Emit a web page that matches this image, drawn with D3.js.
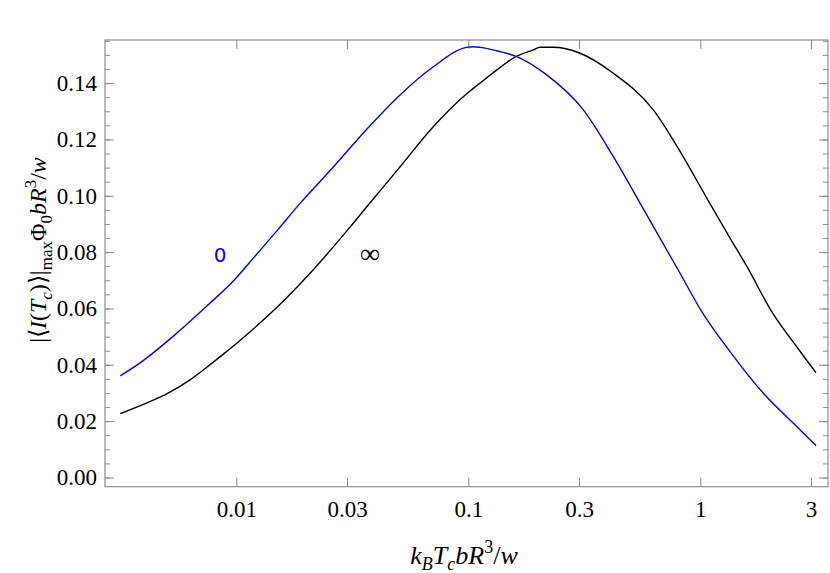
<!DOCTYPE html>
<html>
<head>
<meta charset="utf-8">
<script src="https://cdn.jsdelivr.net/npm/d3@7"></script>
<style>
  body { margin: 0; background: #fff; }
  text { font-family: "Liberation Serif", "Times New Roman", serif; }
</style>
</head>
<body>
<svg id="chart" width="830" height="573"></svg>
<script>
// series: x (log scale), y
var blueX = [0.00316, 0.00382, 0.00532, 0.0074, 0.0098, 0.01216, 0.01508, 0.01882, 0.02619, 0.03648,
  0.05077, 0.07064, 0.0984, 0.1051, 0.1123, 0.1369, 0.1616, 0.2177, 0.3131, 0.4217,
  0.5875, 0.8176, 1.014, 1.343, 1.869, 2.603, 3.153];
var blueY = [0.0361, 0.0405, 0.0500, 0.0606, 0.0701, 0.0790, 0.0879, 0.0973, 0.1102, 0.1236,
  0.1358, 0.1458, 0.1527, 0.1529, 0.1527, 0.1512, 0.1494, 0.1429, 0.1305, 0.1139,
  0.0932, 0.0725, 0.0589, 0.0447, 0.0299, 0.0181, 0.0113];

var blackX = [0.00316, 0.00451, 0.00501, 0.00627, 0.00764, 0.00874, 0.01138, 0.01532, 0.02064, 0.0302,
  0.0365, 0.0508, 0.0706, 0.0984, 0.1123, 0.1369, 0.1563, 0.1906, 0.2037, 0.2325,
  0.3030, 0.4217, 0.6270, 0.8176, 1.083, 1.343, 1.585, 2.031, 2.603, 3.153];
var blackY = [0.0227, 0.0279, 0.0297, 0.0345, 0.0398, 0.0436, 0.0515, 0.0612, 0.0722, 0.0879,
  0.0961, 0.1103, 0.1245, 0.1362, 0.1400, 0.1455, 0.1489, 0.1518, 0.1527, 0.1527,
  0.1506, 0.1435, 0.1305, 0.1158, 0.0982, 0.0850, 0.0750, 0.0589, 0.0464, 0.0372];

var xTicks = [0.01, 0.03, 0.1, 0.3, 1, 3];
var xTickLabels = ["0.01", "0.03", "0.1", "0.3", "1", "3"];
var yTicks = [0, 0.02, 0.04, 0.06, 0.08, 0.10, 0.12, 0.14];
var yMinor = d3.range(0, 0.1551, 0.005);

var svg = d3.select('#chart');

var plotLeft = 105, plotRight = 828, plotTop = 40, plotBottom = 486.7;

var xScale = d3.scaleLog()
  .domain([0.002716, 3.551])
  .range([plotLeft, plotRight]);

var yScale = d3.scaleLinear()
  .domain([-0.00327, 0.1553])
  .range([plotBottom, plotTop]);

var frameColor = '#8c8c8c';

function styleAxis(g) {
  g.select('.domain').remove();
  g.selectAll('.tick line').attr('stroke', frameColor);
  g.selectAll('.tick text')
    .attr('fill', '#000')
    .style('font-family', '"Liberation Serif", serif')
    .style('font-size', '23px');
}

// bottom axis
svg.append('g')
  .attr('transform', 'translate(0,' + plotBottom + ')')
  .call(d3.axisBottom(xScale).tickValues(xTicks)
    .tickFormat(function(d, i) { return xTickLabels[i]; })
    .tickSize(-9).tickPadding(14))
  .call(styleAxis);

// top axis (ticks only)
svg.append('g')
  .attr('transform', 'translate(0,' + plotTop + ')')
  .call(d3.axisTop(xScale).tickValues(xTicks).tickFormat('').tickSize(-9))
  .call(styleAxis);

// left axis: minor then major
svg.append('g')
  .attr('transform', 'translate(' + plotLeft + ',0)')
  .call(d3.axisLeft(yScale).tickValues(yMinor).tickFormat('').tickSize(-5))
  .call(styleAxis);
svg.append('g')
  .attr('transform', 'translate(' + plotLeft + ',0)')
  .call(d3.axisLeft(yScale).tickValues(yTicks)
    .tickFormat(function(d) { return d.toFixed(2); })
    .tickSize(-9).tickPadding(8))
  .call(styleAxis);

// right axis
svg.append('g')
  .attr('transform', 'translate(' + plotRight + ',0)')
  .call(d3.axisRight(yScale).tickValues(yMinor).tickFormat('').tickSize(-5))
  .call(styleAxis);
svg.append('g')
  .attr('transform', 'translate(' + plotRight + ',0)')
  .call(d3.axisRight(yScale).tickValues(yTicks).tickFormat('').tickSize(-9))
  .call(styleAxis);

// frame
svg.append('rect')
  .attr('x', plotLeft).attr('y', plotTop)
  .attr('width', plotRight - plotLeft).attr('height', plotBottom - plotTop)
  .attr('fill', 'none')
  .attr('stroke', frameColor)
  .attr('stroke-width', 1.2);

svg.append('clipPath').attr('id', 'clip')
  .append('rect')
  .attr('x', plotLeft).attr('y', plotTop)
  .attr('width', plotRight - plotLeft).attr('height', plotBottom - plotTop);

var line = d3.line()
  .x(function(d) { return xScale(d[0]); })
  .y(function(d) { return yScale(d[1]); })
  .curve(d3.curveMonotoneX);

svg.append('path')
  .datum(d3.zip(blackX, blackY))
  .attr('d', line)
  .attr('clip-path', 'url(#clip)')
  .attr('fill', 'none')
  .attr('stroke', '#000')
  .attr('stroke-width', 1.4);

svg.append('path')
  .datum(d3.zip(blueX, blueY))
  .attr('d', line)
  .attr('clip-path', 'url(#clip)')
  .attr('fill', 'none')
  .attr('stroke', '#0000ff')
  .attr('stroke-width', 1.4);

// curve labels
svg.append('text')
  .attr('x', 220).attr('y', 262)
  .attr('text-anchor', 'middle')
  .style('font-family', '"DejaVu Sans", sans-serif')
  .style('font-size', '20px')
  .attr('fill', '#0000ff')
  .text('0');

svg.append('text')
  .attr('x', 370).attr('y', 263)
  .attr('text-anchor', 'middle')
  .style('font-size', '28px')
  .attr('fill', '#000')
  .text('\u221E');

// x axis title
var xt = svg.append('text')
  .attr('x', 464).attr('y', 564)
  .attr('text-anchor', 'middle')
  .style('font-size', '26px');
xt.append('tspan').style('font-style', 'italic').text('k');
xt.append('tspan').style('font-style', 'italic').style('font-size', '18px').attr('dy', 6).text('B');
xt.append('tspan').style('font-style', 'italic').attr('dy', -6).text('T');
xt.append('tspan').style('font-style', 'italic').style('font-size', '18px').attr('dy', 6).text('c');
xt.append('tspan').style('font-style', 'italic').attr('dy', -6).text('bR');
xt.append('tspan').style('font-size', '18px').attr('dy', -11).text('3');
xt.append('tspan').attr('dy', 11).text('/');
xt.append('tspan').style('font-style', 'italic').text('w');

// y axis title
var yt = svg.append('text')
  .attr('transform', 'translate(46,250) rotate(-90)')
  .attr('text-anchor', 'middle')
  .style('font-size', '24px');
yt.append('tspan').text('|\u27E8');
yt.append('tspan').style('font-style', 'italic').text('I');
yt.append('tspan').text('(');
yt.append('tspan').style('font-style', 'italic').text('T');
yt.append('tspan').style('font-style', 'italic').style('font-size', '17px').attr('dy', 6).text('c');
yt.append('tspan').attr('dy', -6).text(')\u27E9|');
yt.append('tspan').style('font-size', '17px').attr('dy', 6).text('max');
yt.append('tspan').attr('dy', -6).text('\u03A6');
yt.append('tspan').style('font-size', '17px').attr('dy', 6).text('0');
yt.append('tspan').style('font-style', 'italic').attr('dy', -6).text('bR');
yt.append('tspan').style('font-size', '17px').attr('dy', -10).text('3');
yt.append('tspan').attr('dy', 10).text('/');
yt.append('tspan').style('font-style', 'italic').text('w');
</script>
</body>
</html>
